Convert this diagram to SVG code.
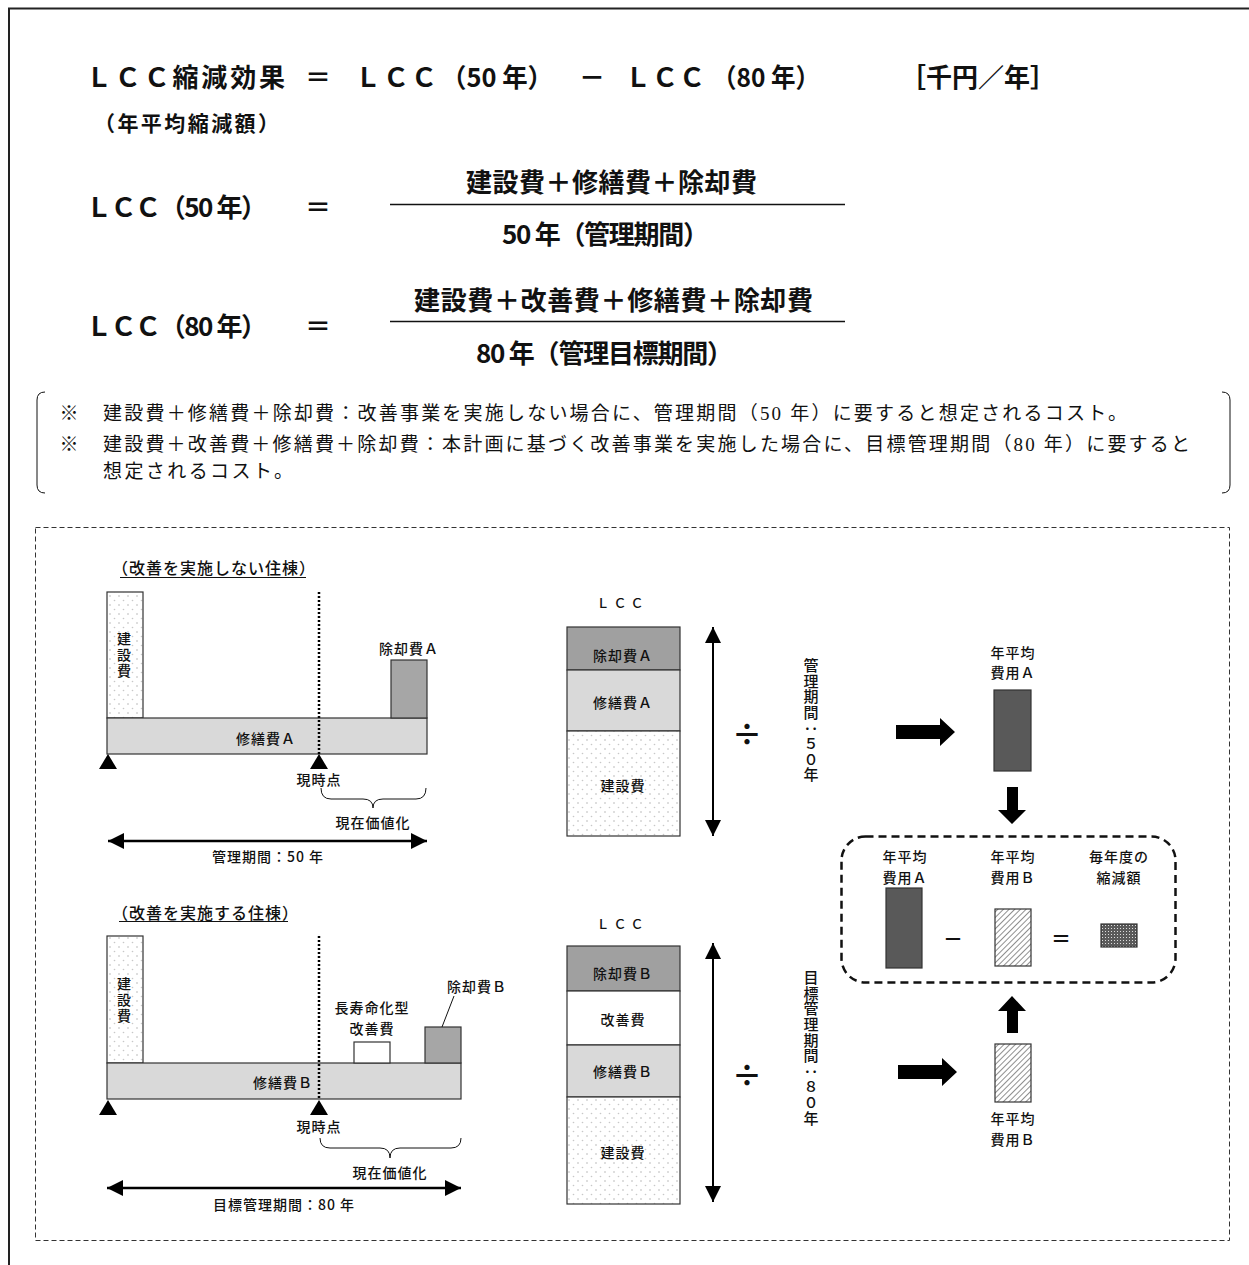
<svg xmlns="http://www.w3.org/2000/svg" width="1249" height="1265" viewBox="0 0 1249 1265">
<style>
text{font-family:"Noto Sans CJK JP","Noto Sans",sans-serif;fill:#111}
.f{font-size:26px;font-weight:bold;dominant-baseline:central}
.n{font-size:19px;font-family:"Liberation Serif","Noto Sans CJK JP",serif;dominant-baseline:central}
.l{font-size:14px;font-weight:500;dominant-baseline:central;text-anchor:middle;letter-spacing:1px}
.t{font-size:16px;font-weight:500;dominant-baseline:central;letter-spacing:1px}
.v{font-size:15px;font-weight:500;writing-mode:vertical-rl;letter-spacing:0.6px}
.vc{font-size:14px;font-weight:500;writing-mode:vertical-rl;letter-spacing:2px}
.bx{stroke:#333;stroke-width:1.2}
.thin{fill:none;stroke:#111;stroke-width:1}
.op{font-size:30px;font-weight:bold;dominant-baseline:central;text-anchor:middle}
</style>
<defs>
<pattern id="dots" width="9" height="9" patternUnits="userSpaceOnUse">
<rect width="9" height="9" fill="#fff"/>
<circle cx="2" cy="2" r="0.8" fill="#b5b5b5"/>
<circle cx="6.5" cy="6.5" r="0.8" fill="#c8c8c8"/>
</pattern>
<pattern id="hatch" width="4" height="4" patternUnits="userSpaceOnUse" patternTransform="rotate(45)">
<rect width="4" height="4" fill="#fff"/>
<line x1="0" y1="0" x2="0" y2="4" stroke="#444" stroke-width="1.2"/>
</pattern>
<pattern id="grid" width="3" height="3" patternUnits="userSpaceOnUse">
<rect width="3" height="3" fill="#5a5a5a"/>
<rect x="1" y="1" width="1" height="1" fill="#ddd"/>
</pattern>
<marker id="ah" markerUnits="userSpaceOnUse" markerWidth="17" markerHeight="17" refX="16" refY="8" orient="auto-start-reverse">
<path d="M0,0 L16,8 L0,16 z" fill="#000"/>
</marker>
</defs>

<!-- outer frame -->
<path d="M9,1265 L9,8.5 L1249,8.5" fill="none" stroke="#222" stroke-width="2"/>

<!-- formulas -->
<g id="formula1">
<text class="f" x="86" y="75" textLength="199">ＬＣＣ縮減効果</text>
<text class="f" x="318" y="75" text-anchor="middle">＝</text>
<text class="f" x="355" y="75" textLength="82">ＬＣＣ</text>
<text class="f" x="441" y="75" textLength="112" lengthAdjust="spacingAndGlyphs">（50 年）</text>
<text class="f" x="592" y="75" text-anchor="middle">－</text>
<text class="f" x="625" y="75" textLength="80">ＬＣＣ</text>
<text class="f" x="712" y="75" textLength="108" lengthAdjust="spacingAndGlyphs">（80 年）</text>
<text class="f" x="900" y="75" textLength="156">［千円／年］</text>
<text x="94" y="122" style="font-size:21px;font-weight:bold;dominant-baseline:central" textLength="185">（年平均縮減額）</text>
</g>
<g id="formula2">
<text class="f" x="86" y="205" textLength="181">ＬＣＣ（50 年）</text>
<text class="f" x="318" y="205" text-anchor="middle">＝</text>
<text class="f" x="466" y="180" textLength="291">建設費＋修繕費＋除却費</text>
<line x1="390" y1="204.5" x2="845" y2="204.5" stroke="#111" stroke-width="1.5"/>
<text class="f" x="502" y="232" textLength="207">50 年（管理期間）</text>
</g>
<g id="formula3">
<text class="f" x="86" y="324" textLength="181">ＬＣＣ（80 年）</text>
<text class="f" x="318" y="324" text-anchor="middle">＝</text>
<text class="f" x="414" y="298" textLength="399">建設費＋改善費＋修繕費＋除却費</text>
<line x1="390" y1="321.5" x2="845" y2="321.5" stroke="#111" stroke-width="1.5"/>
<text class="f" x="476" y="351" textLength="257">80 年（管理目標期間）</text>
</g>

<!-- note -->
<g id="note">
<path d="M45,392 Q37,392 37,400 L37,485 Q37,493 45,493" class="thin" stroke="#333"/>
<path d="M1222,392 Q1230,392 1230,400 L1230,485 Q1230,493 1222,493" class="thin" stroke="#333"/>
<text class="n" x="69" y="413" text-anchor="middle">※</text>
<text class="n" x="103" y="413" textLength="1024">建設費＋修繕費＋除却費：改善事業を実施しない場合に、管理期間（50 年）に要すると想定されるコスト。</text>
<text class="n" x="69" y="444" text-anchor="middle">※</text>
<text class="n" x="103" y="444" textLength="1087">建設費＋改善費＋修繕費＋除却費：本計画に基づく改善事業を実施した場合に、目標管理期間（80 年）に要すると</text>
<text class="n" x="103" y="471" textLength="190">想定されるコスト。</text>
</g>

<!-- dashed frame -->
<rect x="35.5" y="527.5" width="1194" height="713" fill="none" stroke="#333" stroke-width="1" stroke-dasharray="5 3"/>

<!-- Left A -->
<g id="timelineA">
<text class="t" x="112" y="567">（改善を実施しない住棟）</text>
<line x1="120" y1="577.5" x2="306" y2="577.5" stroke="#111" stroke-width="1"/>
<rect class="bx" x="107" y="592" width="36" height="126" fill="url(#dots)"/>
<text class="vc" x="124" y="632">建設費</text>
<rect class="bx" x="107" y="718" width="320" height="36" fill="#d9d9d9"/>
<text class="l" x="266" y="738">修繕費Ａ</text>
<rect class="bx" x="391" y="660" width="36" height="58" fill="#a6a6a6"/>
<text class="l" x="409" y="648">除却費Ａ</text>
<line x1="319" y1="592" x2="319" y2="754" stroke="#000" stroke-width="2.5" stroke-dasharray="2 2"/>
<polygon points="99,769 108,754 117,769" fill="#000"/>
<polygon points="310,769 319,754 328,769" fill="#000"/>
<text class="l" x="319" y="779">現時点</text>
<path d="M321,788 Q321,799 331,799 L363,799 Q373,799 373,808 Q373,799 383,799 L416,799 Q426,799 426,788" class="thin"/>
<text class="l" x="373" y="822">現在価値化</text>
<line x1="108" y1="841" x2="427" y2="841" stroke="#000" stroke-width="2.5" marker-start="url(#ah)" marker-end="url(#ah)"/>
<text class="l" x="268" y="856">管理期間：50 年</text>
</g>

<!-- Left B -->
<g id="timelineB">
<text class="t" x="112" y="912">（改善を実施する住棟）</text>
<line x1="119" y1="921.5" x2="288" y2="921.5" stroke="#111" stroke-width="1"/>
<rect class="bx" x="107" y="936" width="36" height="127" fill="url(#dots)"/>
<text class="vc" x="124" y="977">建設費</text>
<rect class="bx" x="107" y="1063" width="354" height="36" fill="#d9d9d9"/>
<text class="l" x="283" y="1082">修繕費Ｂ</text>
<rect class="bx" x="354" y="1042" width="36" height="21" fill="#fff"/>
<text class="l" x="372" y="1007">長寿命化型</text>
<text class="l" x="372" y="1028">改善費</text>
<rect class="bx" x="425" y="1027" width="36" height="36" fill="#a6a6a6"/>
<text class="l" x="477" y="986">除却費Ｂ</text>
<line x1="442" y1="1027" x2="454" y2="996" stroke="#111" stroke-width="1"/>
<line x1="319" y1="936" x2="319" y2="1099" stroke="#000" stroke-width="2.5" stroke-dasharray="2 2"/>
<polygon points="99,1115 108,1100 117,1115" fill="#000"/>
<polygon points="310,1115 319,1100 328,1115" fill="#000"/>
<text class="l" x="319" y="1126">現時点</text>
<path d="M320,1138 Q320,1148 330,1148 L380,1148 Q390,1148 390,1158 Q390,1148 400,1148 L451,1148 Q461,1148 461,1138" class="thin"/>
<text class="l" x="390" y="1172">現在価値化</text>
<line x1="107" y1="1188" x2="461" y2="1188" stroke="#000" stroke-width="2.5" marker-start="url(#ah)" marker-end="url(#ah)"/>
<text class="l" x="284" y="1204">目標管理期間：80 年</text>
</g>

<!-- Middle A -->
<g id="stackA">
<text class="l" x="622" y="602" style="font-size:13px;letter-spacing:4px">ＬＣＣ</text>
<rect class="bx" x="567" y="627" width="113" height="43" fill="#a0a0a0"/>
<rect class="bx" x="567" y="670" width="113" height="61" fill="#d9d9d9"/>
<rect class="bx" x="567" y="731" width="113" height="105" fill="url(#dots)"/>
<text class="l" x="623" y="655">除却費Ａ</text>
<text class="l" x="623" y="702">修繕費Ａ</text>
<text class="l" x="623" y="785">建設費</text>
<line x1="713" y1="627" x2="713" y2="836" stroke="#000" stroke-width="2" marker-start="url(#ah)" marker-end="url(#ah)"/>
<text class="op" x="747" y="732">÷</text>
<text class="v" x="811" y="658">管理期間：５０年</text>
</g>

<!-- Middle B -->
<g id="stackB">
<text class="l" x="622" y="923" style="font-size:13px;letter-spacing:4px">ＬＣＣ</text>
<rect class="bx" x="567" y="946" width="113" height="45" fill="#a0a0a0"/>
<rect class="bx" x="567" y="991" width="113" height="54" fill="#fff"/>
<rect class="bx" x="567" y="1045" width="113" height="52" fill="#d9d9d9"/>
<rect class="bx" x="567" y="1097" width="113" height="107" fill="url(#dots)"/>
<text class="l" x="623" y="973">除却費Ｂ</text>
<text class="l" x="623" y="1019">改善費</text>
<text class="l" x="623" y="1071">修繕費Ｂ</text>
<text class="l" x="623" y="1152">建設費</text>
<line x1="713" y1="943" x2="713" y2="1202" stroke="#000" stroke-width="2" marker-start="url(#ah)" marker-end="url(#ah)"/>
<text class="op" x="747" y="1073">÷</text>
<text class="v" x="811" y="970">目標管理期間：８０年</text>
</g>

<!-- Right -->
<g id="avgA">
<text class="l" x="1013" y="652">年平均</text>
<text class="l" x="1013" y="672">費用Ａ</text>
<rect class="bx" x="994" y="690" width="37" height="81" fill="#595959"/>
</g>
<g id="avgB">
<rect class="bx" x="995" y="1044" width="36" height="58" fill="url(#hatch)"/>
<text class="l" x="1013" y="1118">年平均</text>
<text class="l" x="1013" y="1139">費用Ｂ</text>
</g>
<g id="result">
<rect x="841.5" y="836.5" width="334" height="146" rx="24" fill="none" stroke="#111" stroke-width="2.5" stroke-dasharray="8 5"/>
<text class="l" x="905" y="856">年平均</text>
<text class="l" x="905" y="877">費用Ａ</text>
<rect class="bx" x="886" y="888" width="36" height="80" fill="#595959"/>
<text x="953" y="938" style="font-size:20px;font-weight:bold;dominant-baseline:central;text-anchor:middle">－</text>
<text class="l" x="1013" y="856">年平均</text>
<text class="l" x="1013" y="877">費用Ｂ</text>
<rect class="bx" x="995" y="909" width="36" height="57" fill="url(#hatch)"/>
<text x="1061" y="938" style="font-size:20px;font-weight:bold;dominant-baseline:central;text-anchor:middle">＝</text>
<text class="l" x="1119" y="856">毎年度の</text>
<text class="l" x="1119" y="877">縮減額</text>
<rect class="bx" x="1101" y="924" width="36" height="23" fill="url(#grid)"/>
</g>

<g id="connectors">
<polygon points="896,725 940,725 940,718 955,732 940,746 940,739 896,739" fill="#000"/>
<polygon points="898,1065 942,1065 942,1058 957,1072 942,1086 942,1079 898,1079" fill="#000"/>
<polygon points="1007,787 1018,787 1018,810 1026,810 1012,824 998,810 1007,810" fill="#000"/>
<polygon points="1007,1033 1018,1033 1018,1011 1026,1011 1012,996 998,1011 1007,1011" fill="#000"/>
</g>
</svg>
